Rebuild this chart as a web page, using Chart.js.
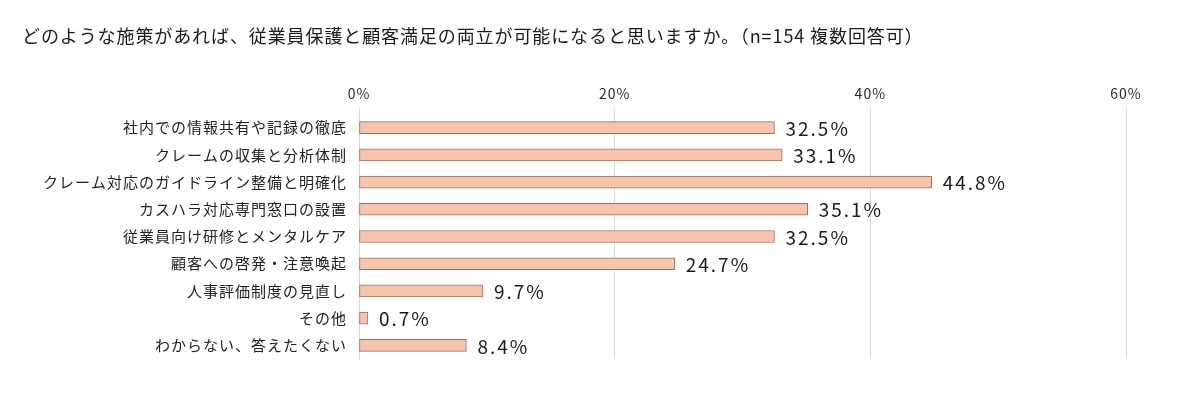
<!DOCTYPE html>
<html lang="ja">
<head>
<meta charset="utf-8">
<script src="https://cdn.jsdelivr.net/npm/chart.js@4"></script>
<style>
  html, body { margin: 0; padding: 0; background: #fff; }
  #wrap { width: 1181px; height: 393px; }
</style>
</head>
<body>
<div id="wrap"><canvas id="barChart" width="1181" height="393"></canvas></div>
<script>
const categories = [
  '社内での情報共有や記録の徹底',
  'クレームの収集と分析体制',
  'クレーム対応のガイドライン整備と明確化',
  'カスハラ対応専門窓口の設置',
  '従業員向け研修とメンタルケア',
  '顧客への啓発・注意喚起',
  '人事評価制度の見直し',
  'その他',
  'わからない、答えたくない',
];
const values = [32.5, 33.1, 44.8, 35.1, 32.5, 24.7, 9.7, 0.7, 8.4];
const tickValues = [0, 20, 40, 60];
const titleText = 'どのような施策があれば、従業員保護と顧客満足の両立が可能になると思いますか。（n=154 複数回答可）';

const jpFont = '"Noto Sans CJK JP", "Noto Sans", sans-serif';

// the source text is set a little wider than the font, so add some tracking
const spacing = {
  id: 'spacing',
  beforeDraw(chart) {
    chart.ctx.letterSpacing = '1px';
  },
  afterDraw(chart) {
    chart.ctx.letterSpacing = '0px';
  },
};

// title drawn by hand so it can be tracked like the original
const titleLine = {
  id: 'titleLine',
  afterDraw(chart) {
    const ctx = chart.ctx;
    ctx.save();
    ctx.letterSpacing = '0.9px';
    ctx.font = '18px ' + jpFont;
    ctx.fillStyle = '#1a1a1a';
    ctx.textBaseline = 'middle';
    ctx.textAlign = 'left';
    ctx.fillText(titleText, 22, 36);
    ctx.restore();
  },
};

// draw the value text to the right of each bar
const valueLabels = {
  id: 'valueLabels',
  afterDatasetsDraw(chart) {
    const ctx = chart.ctx;
    const meta = chart.getDatasetMeta(0);
    ctx.save();
    ctx.letterSpacing = '2px';
    ctx.font = '19px ' + jpFont;
    ctx.fillStyle = '#1a1a1a';
    ctx.textBaseline = 'middle';
    ctx.textAlign = 'left';
    meta.data.forEach((bar, i) => {
      ctx.fillText(values[i].toFixed(1) + '%', bar.x + 11, bar.y + 1);
    });
    ctx.restore();
  },
};

const ctx = document.getElementById('barChart').getContext('2d');
const myChart = new Chart(ctx, {
  type: 'bar',
  data: {
    labels: categories,
    datasets: [
      {
        data: values,
        backgroundColor: 'rgb(247, 197, 171)',
        borderColor: 'rgb(150, 112, 96)',
        borderWidth: 1,
        borderSkipped: false,
        barThickness: 12,
      },
    ],
  },
  options: {
    indexAxis: 'y',
    responsive: false,
    animation: false,
    layout: { padding: { left: 0, right: 55, bottom: 34, top: 48 } },
    plugins: {
      legend: { display: false },
      tooltip: { enabled: false },
      title: { display: false },
    },
    scales: {
      x: {
        position: 'top',
        min: 0,
        max: 60,
        afterBuildTicks: (scale) => {
          scale.ticks = tickValues.map((v) => ({ value: v }));
        },
        afterFit: (scale) => {
          scale.height = 66;
        },
        ticks: {
          callback: (v) => v + '%',
          color: '#2a2a2a',
          padding: 6,
          font: { family: jpFont, size: 14 },
        },
        grid: {
          color: '#d9d9d9',
          lineWidth: 1,
          tickLength: 6,
          tickColor: '#d9d9d9',
        },
        border: { display: false },
      },
      y: {
        afterFit: (scale) => {
          scale.width = 359;
        },
        ticks: {
          color: '#222',
          padding: 4,
          font: { family: jpFont, size: 15 },
        },
        grid: { display: false },
        border: { display: true, color: '#d9d9d9' },
      },
    },
  },
  plugins: [spacing, titleLine, valueLabels],
});
</script>
</body>
</html>
